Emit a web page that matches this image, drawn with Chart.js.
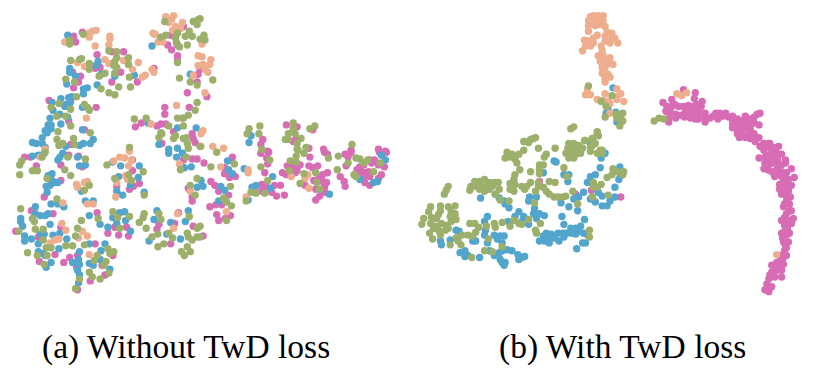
<!DOCTYPE html>
<html>
<head>
<meta charset="utf-8">
<style>
  body { margin: 0; background: #fff; width: 814px; height: 386px; overflow: hidden; position: relative; }
  canvas { position: absolute; top: 0; }
  #chartA { left: 0; }
  #chartB { left: 407px; }
  .caption { position: absolute; top: 327px; font-family: "Liberation Serif", serif; font-size: 33.5px; line-height: 40px; color: #000; white-space: nowrap; }
  #capA { left: 42px; }
  #capB { left: 499px; }
</style>
</head>
<body>
<canvas id="chartA" width="407" height="320"></canvas>
<canvas id="chartB" width="407" height="320"></canvas>
<div class="caption" id="capA">(a) Without TwD loss</div>
<div class="caption" id="capB">(b) With TwD loss</div>
<script src="https://cdn.jsdelivr.net/npm/chart.js@4"></script>
<script>
const captions = ["(a) Without TwD loss", "(b) With TwD loss"];
const seriesNames = ["green", "orange", "blue", "pink"];
const colors = ["#9db06b", "#eeae8e", "#52a5cc", "#d76cb5"];

// embedding values
const aGreen = [[164,18],[193,18],[198,16],[197,21],[81,31],[67,37],[67,41],[160,34],[165,32],[177,30],[175,35],[185,33],[189,28],[192,33],[176,40],[187,42],[179,44],[115,49],[107,48],[68,58],[77,57],[79,56],[127,55],[115,55],[113,59],[112,63],[127,62],[115,65],[87,61],[87,67],[103,71],[97,74],[113,71],[128,75],[63,77],[72,80],[99,87],[117,85],[129,85],[107,91],[113,93],[74,95],[82,103],[85,106],[87,109],[68,108],[56,102],[48,106],[54,115],[63,115],[68,125],[55,131],[88,132],[54,139],[71,138],[56,145],[60,143],[72,144],[128,147],[133,118],[145,117],[168,125],[160,132],[161,133],[158,137],[173,138],[175,135],[183,138],[186,137],[183,125],[183,117],[188,114],[177,117],[195,109],[197,101],[179,76],[190,80],[197,83],[177,60],[187,143],[188,148],[200,146],
  [204,32],[205,37],[200,36],[213,78],[200,15],[250,128],[261,125],[248,133],[260,133],[295,122],[295,128],[290,133],[297,133],[287,139],[290,139],[299,143],[303,138],[317,125],[312,128],[355,144],[308,147],[299,149],[263,149],
  [42,152],[39,157],[18,161],[16,165],[16,175],[29,171],[34,171],[44,179],[62,170],[68,176],[65,157],[83,159],[105,165],[87,186],[82,191],[113,179],[127,175],[130,181],[142,172],[143,196],[54,200],[17,210],[29,220],[31,223],[96,220],[79,222],[111,213],[116,219],[128,218],[118,230],[75,230],[32,231],[40,231],[15,233],[40,242],[73,238],[82,247],[63,248],[70,248],[43,250],[48,250],[24,255],[34,258],[44,258],[41,267],[92,263],[95,258],[106,251],[108,256],[112,254],[104,264],[102,268],[107,276],[87,275],[90,280],[98,282],[77,282],[73,292],[138,224],[142,219],[143,215],[158,215],[160,221],[145,230],[157,236],[151,239],[157,249],[163,246],[168,235],[172,240],[181,254],[184,258],[187,249],[190,254],[187,235],[188,239],[192,242],[197,230],[197,239],[189,218],[180,170],[186,157],[190,186],[197,179],[195,196],
  [217,152],[211,167],[235,164],[262,167],[271,160],[292,161],[298,156],[298,162],[306,153],[300,150],[291,171],[306,174],[302,184],[318,173],[319,183],[322,190],[340,170],[331,158],[341,156],[351,163],[359,158],[363,159],[367,163],[371,160],[384,163],[377,172],[357,175],[359,177],[269,181],[252,193],[257,194],[266,194],[247,202],[224,199],[227,203],[232,207],[231,187],[227,222],[200,228],[200,239]];
const aOrange = [[94,27],[90,28],[87,30],[87,34],[108,33],[108,36],[107,42],[93,43],[62,39],[103,57],[107,61],[75,60],[82,64],[122,58],[137,60],[131,67],[144,73],[141,75],[151,67],[153,70],[84,117],[176,104],[150,123],[42,149],[165,13],[173,12],[171,16],[168,19],[182,19],[175,23],[172,27],[180,25],[152,30],[154,31],[157,39],[162,39],[198,53],[198,63],[193,73],
  [202,41],[202,54],[211,57],[210,62],[203,62],[205,67],[208,70],[205,91],[203,130],[201,133],[201,146],[213,146],[224,148],
  [37,157],[128,151],[118,157],[123,158],[112,161],[130,160],[127,166],[124,176],[126,180],[115,183],[74,185],[75,188],[82,183],[85,182],[114,198],[60,204],[85,205],[91,205],[59,225],[63,232],[56,241],[52,242],[47,245],[76,240],[85,238],[87,257],[80,233],[177,215],[173,230],[179,164],[190,192],
  [221,167],[249,170],[249,173],[293,177],[310,175],[307,179],[311,189],[247,198],[227,213]];
const aBlue = [[65,32],[151,43],[96,59],[94,63],[67,66],[67,70],[73,74],[64,82],[99,72],[113,74],[133,73],[95,83],[85,86],[81,87],[81,92],[69,95],[66,96],[58,97],[49,101],[67,102],[63,103],[62,105],[65,105],[50,109],[80,106],[57,113],[47,117],[65,116],[45,124],[48,124],[58,123],[48,128],[42,130],[44,132],[80,129],[39,137],[29,142],[33,143],[39,143],[42,147],[63,146],[77,145],[81,143],[88,143],[91,139],[158,144],[147,122],[177,127],[168,149],[177,148],[190,72],[196,127],[252,135],[250,142],
  [29,156],[41,153],[35,155],[55,160],[60,153],[57,157],[75,157],[77,166],[83,165],[49,174],[45,176],[49,181],[52,183],[47,186],[43,187],[55,183],[44,193],[79,192],[83,202],[91,202],[48,205],[55,205],[61,208],[32,208],[32,215],[37,217],[42,217],[45,215],[17,220],[17,223],[19,228],[47,226],[87,217],[98,226],[106,229],[111,219],[118,214],[123,213],[124,222],[115,225],[129,233],[50,237],[57,235],[21,238],[21,243],[28,241],[37,236],[41,236],[64,241],[35,246],[56,251],[35,254],[40,256],[42,258],[48,265],[43,270],[77,254],[87,246],[103,246],[99,253],[76,262],[77,267],[70,265],[87,266],[91,268],[98,262],[108,272],[75,273],[77,278],[76,286],[111,162],[119,166],[138,166],[137,178],[117,177],[129,186],[115,192],[121,196],[143,193],[156,212],[153,221],[148,243],[166,236],[170,224],[185,223],[188,212],[180,241],[168,153],[182,153],[176,157],[191,167],[184,168],[197,188],
  [228,161],[229,170],[233,174],[245,169],[274,177],[253,188],[257,186],[272,189],[221,187],[225,191],[219,202],[249,201],[332,195],[363,180],[377,183],[381,182],[385,155],[389,160],[201,181],[203,187]];
const aPink = [[80,29],[71,33],[73,39],[167,42],[171,47],[170,32],[183,23],[177,42],[177,53],[177,58],[95,52],[110,49],[122,49],[93,66],[98,65],[70,70],[78,74],[76,80],[71,86],[119,70],[110,80],[136,80],[153,66],[46,99],[68,100],[94,106],[66,120],[82,129],[68,144],[164,106],[164,113],[160,123],[156,125],[165,123],[140,122],[134,126],[189,106],[187,91],[198,72],[197,80],[182,117],[192,133],[193,138],[173,131],[161,143],[195,142],
  [288,124],[299,126],[315,129],[264,139],[262,144],[295,141],[298,138],[311,148],[326,149],[354,150],[382,149],[389,151],[269,151],[207,95],[200,67],
  [21,157],[27,157],[33,166],[58,165],[66,155],[76,156],[80,167],[58,181],[41,198],[28,212],[50,215],[12,233],[58,229],[35,239],[95,214],[113,229],[125,229],[106,235],[117,237],[127,238],[93,246],[52,257],[36,264],[61,265],[67,260],[75,258],[74,270],[100,268],[111,258],[103,278],[88,284],[75,293],[131,160],[131,171],[132,187],[128,190],[138,184],[115,187],[156,231],[158,226],[178,214],[174,225],[170,246],[193,228],[192,198],[192,202],[183,160],[192,159],[197,159],[188,189],
  [262,153],[270,152],[268,158],[269,164],[204,163],[225,168],[225,174],[233,157],[232,160],[236,177],[230,178],[266,173],[211,182],[215,186],[219,192],[229,196],[210,208],[216,206],[222,206],[217,216],[231,217],[219,222],[226,220],[203,238],[263,185],[257,187],[268,188],[276,186],[282,186],[273,193],[278,197],[286,196],[263,192],
  [284,173],[288,175],[289,166],[293,166],[298,165],[302,165],[295,170],[299,171],[297,173],[312,157],[311,166],[315,168],[320,166],[325,175],[330,173],[322,177],[316,181],[325,182],[329,183],[327,188],[318,190],[327,193],[322,197],[318,201],[307,186],[327,152],[330,154],[348,154],[351,157],[354,152],[349,166],[343,177],[347,182],[348,187],[373,160],[378,160],[375,163],[382,165],[388,167],[360,170],[363,167],[367,165],[365,172],[368,173],[372,172],[363,175],[368,177],[373,177],[385,175],[382,179],[368,183],[373,186],[390,152],[383,152]];

// embedding values
const bGreen = [[523,141],[527,142],[529,139],[534,137],[532,138],[522,141],[537,148],[522,150],[505,152],[510,154],[517,154],[508,157],[503,158],[513,159],[515,163],[545,154],[543,157],[554,148],[568,143],[573,143],[578,145],[567,148],[572,148],[577,148],[582,148],[565,153],[570,153],[575,154],[580,153],[568,158],[573,158],[585,140],[592,138],[597,133],[598,135],[592,145],[590,151],[597,153],[600,150],[602,153],[538,165],[542,165],[538,170],[538,174],[529,172],[518,170],[513,175],[512,180],[508,184],[513,185],[520,187],[525,187],[529,183],[523,190],[508,190],[512,192],[537,183],[537,187],[548,182],[554,183],[534,192],[542,188],[545,192],[548,195],[553,198],[557,198],[562,198],[565,197],[563,168],[566,177],[572,192],[577,205],[593,183],[601,185],[597,188],[607,178],[612,175],[613,169],[618,172],[623,175],[624,172],[608,196],[592,198],[593,188],
  [445,187],[443,191],[441,195],[472,182],[477,182],[482,180],[487,183],[492,183],[496,183],[468,187],[473,187],[478,187],[483,187],[490,187],[467,191],[477,190],[482,192],[487,190],[497,190],[498,201],[507,202],[493,195],[533,204],
  [427,208],[425,213],[437,207],[445,208],[452,207],[437,212],[435,216],[448,213],[452,215],[420,220],[428,219],[433,220],[447,218],[453,221],[418,226],[427,225],[432,228],[438,225],[443,227],[448,223],[435,232],[442,232],[445,230],[430,230],[437,237],[426,235],[429,241],[453,240],[455,243],[447,247],[458,247],[459,237],[465,237],[470,238],[473,234],[467,225],[472,225],[476,229],[484,228],[492,225],[493,229],[500,224],[486,241],[508,228],[512,222],[517,225],[520,226],[527,221],[539,225],[534,232],[535,235],[469,260],[482,253],[490,254],[500,249],[589,232],[589,239],
  [588,84],[612,94],[601,100],[606,105],[616,113],[623,112],[620,117],[623,120],[605,116],[620,125],[617,117],[573,126],[570,128],[597,131],[598,135],[592,138],[584,140],[595,143],[590,147],[575,146],[580,147],[602,150],[655,120],[660,117],[665,118]];
const bOrange = [[590,13],[593,12],[598,12],[603,12],[588,17],[593,17],[598,17],[603,17],[588,22],[595,22],[600,21],[605,23],[588,28],[607,29],[612,30],[605,33],[612,35],[615,35],[618,40],[605,38],[610,40],[597,32],[593,35],[584,37],[588,38],[593,40],[585,43],[590,43],[582,48],[601,43],[602,48],[598,53],[603,53],[610,55],[600,59],[605,59],[610,61],[613,62],[602,65],[605,65],[602,71],[608,72],[605,76],[610,75],[605,80],[587,87],[585,93],[590,93],[605,92],[617,87],[621,92],[617,95],[617,98],[624,100],[597,98],[603,99],[610,102],[608,100],[610,112],[678,92],[683,94],[688,91],[780,257]];
const bBlue = [[478,199],[493,195],[497,199],[502,202],[503,205],[507,209],[528,198],[527,202],[535,198],[553,161],[555,162],[542,173],[563,175],[568,175],[567,182],[590,143],[605,153],[601,158],[600,168],[595,175],[590,177],[587,183],[595,188],[598,193],[602,197],[590,200],[595,203],[602,207],[607,207],[610,202],[583,193],[578,198],[573,200],[568,208],[560,204],[577,212],[615,188],[620,167],[619,180],[615,198],
  [533,210],[532,215],[538,215],[543,217],[535,220],[517,213],[513,218],[522,218],[520,223],[527,226],[506,223],[561,218],[563,226],[584,221],[570,230],[575,230],[580,228],[578,233],[583,235],[565,235],[562,235],[557,235],[563,239],[558,243],[545,235],[550,236],[542,238],[548,240],[538,243],[543,243],[548,245],[582,245],[585,245],[576,251],[587,237],[575,236],[570,235],[553,240],
  [485,218],[482,223],[483,232],[482,237],[485,245],[492,237],[498,238],[502,238],[495,241],[500,245],[470,243],[473,243],[453,232],[456,233],[447,242],[437,243],[438,247],[457,255],[462,253],[462,259],[465,258],[477,260],[487,253],[492,258],[497,255],[500,253],[505,252],[510,253],[498,262],[500,265],[503,265],[502,268],[516,257],[517,262],[523,259],[520,260],
  [613,86],[608,108],[606,112],[616,111],[617,121],[590,143]];
const bPink = [[538,182],[538,187],[591,191],[575,195],[621,198],[621,176],
  [685,88],[697,91],[696,97],[664,101],[673,98],[676,103],[668,105],[673,105],[667,110],[672,112],[677,113],[670,117],[670,121],[677,117],[682,114],[687,110],[692,110],[697,108],[698,103],[703,105],[702,112],[697,115],[707,112],[697,118],[707,117],[712,117],[707,121],[718,112],[722,112],[728,112],[720,118],[735,115],[740,118],[745,120],[752,118],[757,116],[763,112],[760,113],[735,122],[740,123],[747,125],[752,123],[762,124],[735,127],[740,130],[753,128],[742,135],[752,133],[757,133],[753,138],[762,137],[767,143],[773,143],[763,146],[770,147],[777,147],[782,146],
  [740,133],[742,137],[753,133],[760,138],[765,145],[772,143],[780,147],[767,150],[775,150],[780,153],[785,154],[762,158],[768,157],[775,157],[768,163],[777,163],[789,160],[789,163],[767,169],[785,172],[795,169],[778,177],[785,177],[790,173],[798,178],[783,185],[790,185],[795,186],[783,190],[792,192],[785,195],[794,198],[790,202],[793,205],[793,212],[788,219],[797,220],[792,222],[788,227],[795,225],[785,235],[790,237],[793,235],[787,244],[792,244],[788,253],[790,258],[783,258],[780,265],[787,267],[775,275],[780,273],[785,273],[778,280],[785,280],[773,278],[772,290],[768,293],[772,295],[775,290],
  [772,160],[782,165],[788,178],[787,208],[790,215],[789,231],[789,248],[786,262],[783,268],[771,170],[695,105],[690,113],[680,105],
  [685,105],[690,104],[700,118],[692,117],[686,116],[704,100],[715,115],[725,115],[731,116],[750,127],[745,128],[757,122],[748,115],[743,122],[745,133],[748,137],[758,141],[770,155],[772,165],[781,160],[785,165],[780,170],[775,172],[783,173],[787,180],[792,180],[786,190],[788,195],[790,197],[788,205],[795,212],[785,222],[791,230],[786,240],[790,250],[785,265],[780,270],[775,268],[772,282],[770,287]];

const makeScatter = (id, series, xMin, xMax) => {
  new Chart(document.getElementById(id), {
    type: "scatter",
    data: {
      // first dataset is painted last, green ends up on top
      datasets: series.map((points, i) => ({
        label: seriesNames[i],
        data: points,
        backgroundColor: colors[i],
        borderWidth: 0,
        pointRadius: 3.7,
        clip: false,
      })),
    },
    options: {
      responsive: false,
      animation: false,
      layout: { padding: 0 },
      plugins: { legend: { display: false }, tooltip: { enabled: false } },
      scales: {
        x: { type: "linear", display: false, min: xMin, max: xMax },
        y: { type: "linear", display: false, min: 0, max: 320, reverse: true },
      },
    },
  });
};

makeScatter("chartA", [aGreen, aOrange, aBlue, aPink], 0, 407);
makeScatter("chartB", [bGreen, bOrange, bBlue, bPink], 407, 814);
document.getElementById("capA").textContent = captions[0];
document.getElementById("capB").textContent = captions[1];
</script>
</body>
</html>
